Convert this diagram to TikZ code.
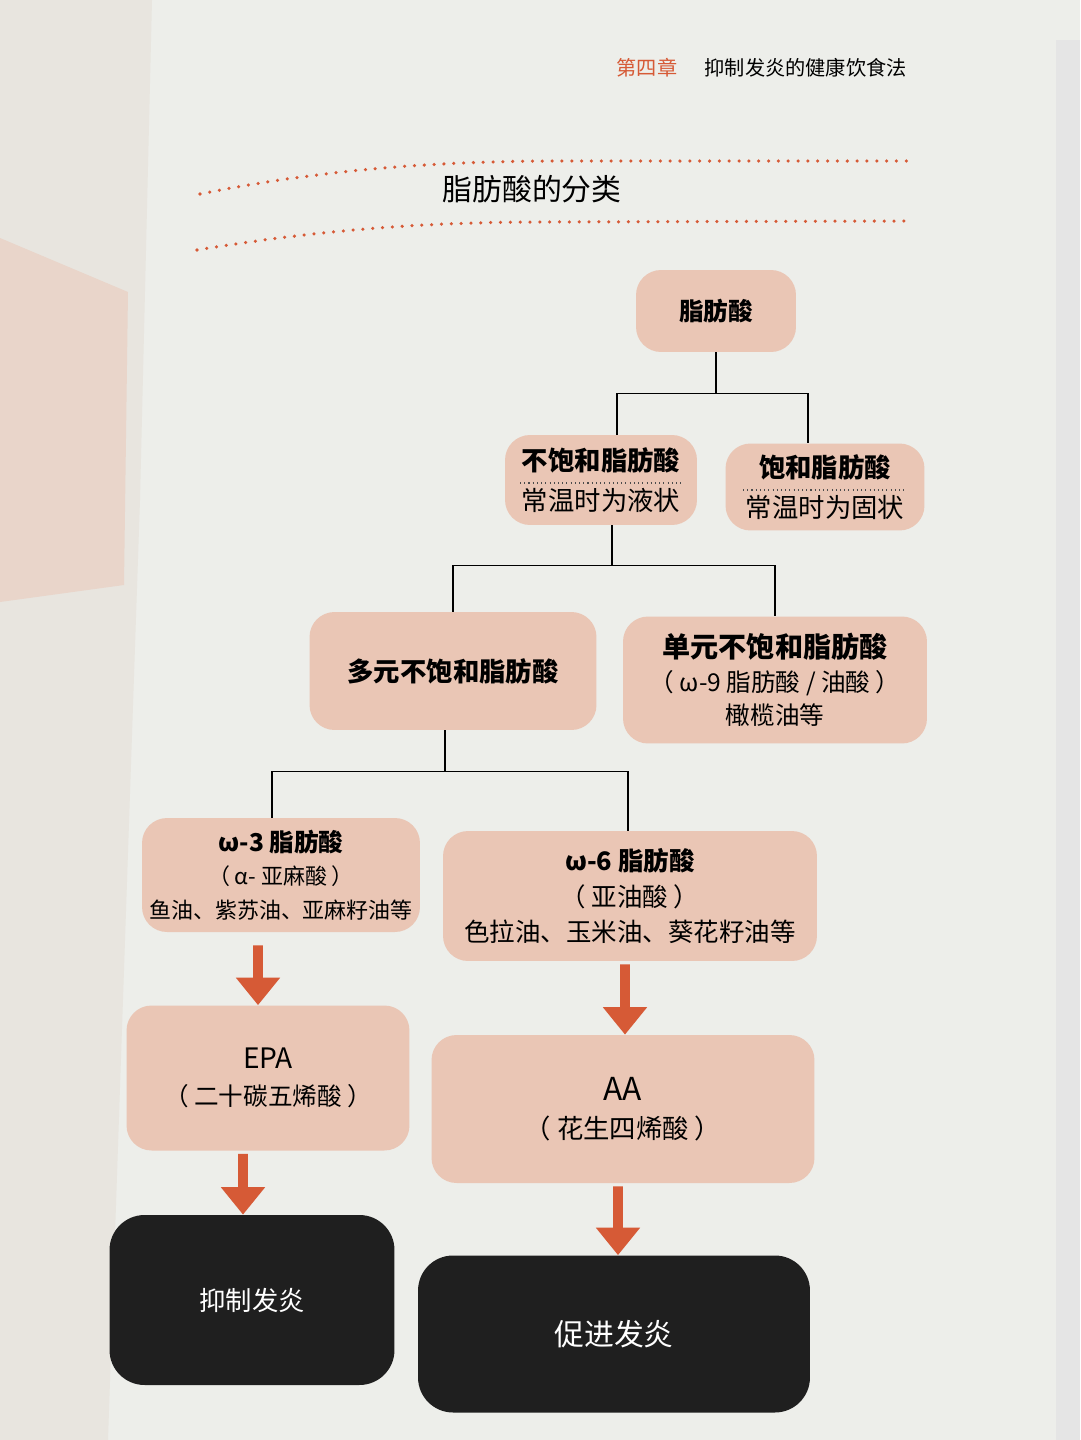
\documentclass[tikz,border=0pt]{standalone}
\usepackage{fontspec}
\setmainfont{Noto Sans CJK SC}
\usepackage{xcolor}
\usetikzlibrary{arrows.meta,positioning}

\definecolor{boxfill}{HTML}{EAC6B5}
\definecolor{arrowred}{HTML}{D65A36}
\definecolor{pagebg}{HTML}{EDEEEA}
\definecolor{leftpage}{HTML}{E8E5DF}
\definecolor{inkblack}{HTML}{1F1F1F}

\tikzset{
  fabox/.style={rounded corners=0.5cm,fill=boxfill,align=center,inner sep=0pt},
  darkbox/.style={rounded corners=0.7cm,fill=inkblack,text=white,inner sep=0pt},
  link/.style={draw=black,line width=0.9pt},
  flow/.style={draw=arrowred,line width=5.5pt,-{Triangle[width=0.85cm,length=0.55cm]}},
  sepline/.style={draw=black!70,line width=1pt,dash pattern=on 0.6pt off 1.8pt},
  dotrule/.style={draw=arrowred,line width=2pt,line cap=round,dash pattern=on 0pt off 5.6pt}
}
\newcommand{\fsz}[2]{\fontsize{#1}{#2}\selectfont}

\begin{document}
\begin{tikzpicture}[x=0.02cm,y=-0.02cm]
\useasboundingbox (0,0) rectangle (1080,1440);
% page and photo background
\fill[pagebg] (0,0) rectangle (1080,1440);
\fill[leftpage] (0,0) -- (152,0) -- (140,500) -- (108,1440) -- (0,1440) -- cycle;
\fill[boxfill!50!leftpage] (0,238) -- (128,292) -- (124,585) -- (0,602) -- cycle;
\fill[black!10] (1056,40) -- (1080,40) -- (1080,1440) -- (1056,1440) -- cycle;

% running head
\node[text=arrowred,font=\fsz{11.5}{14}] (chapter) at (647,68) {第四章};
\node[font=\fsz{11.5}{14},right=0.3cm of chapter] (chaptitle) {抑制发炎的健康饮食法};

% title between dotted rules
\draw[dotrule] (200,194) .. controls (330,168) and (440,162) .. (545,161) -- (912,161);
\draw[dotrule] (197,250) .. controls (330,228) and (440,222) .. (545,222) -- (912,221);
\node[font=\fsz{17}{20}] (title) at (532,189) {脂肪酸的分类};

% boxes
\node[fabox,minimum width=3.2cm,minimum height=1.64cm,font=\fsz{14}{17}\bfseries] (top) at (716,311) {脂肪酸};
\node[fabox,minimum width=3.84cm,minimum height=1.8cm,font=\fsz{15}{18}] (unsat) at (601,480)
  {{\bfseries 不饱和脂肪酸}\\[5pt]常温时为液状};
\node[fabox,minimum width=3.98cm,minimum height=1.74cm,font=\fsz{15}{18}] (sat) at (825,487)
  {{\bfseries 饱和脂肪酸}\\[5pt]常温时为固状};
\node[fabox,minimum width=5.74cm,minimum height=2.36cm,font=\fsz{15}{18}\bfseries] (poly) at (453,671) {多元不饱和脂肪酸};
\node[fabox,minimum width=6.08cm,minimum height=2.54cm,font=\fsz{14}{19}] (mono) at (775,680)
  {{\fsz{16}{19}\bfseries 单元不饱和脂肪酸}\\（ ω-9 脂肪酸 / 油酸 ）\\橄榄油等};
\node[fabox,minimum width=5.56cm,minimum height=2.28cm,font=\fsz{12.5}{19}] (omegathree) at (281,875)
  {{\fsz{14}{19}\bfseries ω-3 脂肪酸}\\（ α- 亚麻酸 ）\\鱼油、紫苏油、亚麻籽油等};
\node[fabox,minimum width=7.48cm,minimum height=2.6cm,font=\fsz{14.5}{20}] (omegasix) at (630,896)
  {{\bfseries ω-6 脂肪酸}\\（ 亚油酸 ）\\色拉油、玉米油、葵花籽油等};
\node[fabox,minimum width=5.66cm,minimum height=2.9cm,font=\fsz{14}{21}] (epa) at (268,1078)
  {{\fsz{16}{21}EPA}\\（ 二十碳五烯酸 ）};
\node[fabox,minimum width=7.66cm,minimum height=2.96cm,font=\fsz{15}{22}] (aa) at (623,1109)
  {{\fsz{18}{22}AA}\\（ 花生四烯酸 ）};
\node[darkbox,minimum width=5.7cm,minimum height=3.4cm,font=\fsz{15}{18}] (inhibit) at (252,1300) {抑制发炎};
\node[darkbox,minimum width=7.84cm,minimum height=3.14cm,font=\fsz{17}{20}] (promote) at (614,1334) {促进发炎};

% dotted separators inside the first pair
\draw[sepline] ([xshift=-1.62cm,yshift=-0.06cm]unsat.center) -- ([xshift=1.62cm,yshift=-0.06cm]unsat.center);
\draw[sepline] ([xshift=-1.64cm,yshift=-0.06cm]sat.center) -- ([xshift=1.64cm,yshift=-0.06cm]sat.center);

% tree connectors
\draw[link] (top.south) -- ++(0,41) coordinate (splitA);
\draw[link] ([xshift=0.32cm]unsat.north) |- (splitA) -| ([xshift=-0.34cm]sat.north);
\draw[link] ([xshift=0.22cm]unsat.south) -- ++(0,40) coordinate (splitB);
\draw[link] (poly.north) |- (splitB) -| (mono.north);
\draw[link] ([xshift=-0.16cm]poly.south) -- ++(0,41) coordinate (splitC);
\draw[link] ([xshift=-0.18cm]omegathree.north) |- (splitC) -| ([xshift=-0.04cm]omegasix.north);

% flow arrows
\draw[flow] ([xshift=-0.46cm,yshift=-0.26cm]omegathree.south) -- ([xshift=-0.2cm]epa.north);
\draw[flow] ([xshift=-0.1cm,yshift=-0.06cm]omegasix.south) -- ([xshift=0.04cm]aa.north);
\draw[flow] ([xshift=-0.5cm,yshift=-0.06cm]epa.south) -- ([xshift=-0.18cm]inhibit.north);
\draw[flow] ([xshift=-0.1cm,yshift=-0.06cm]aa.south) -- ([xshift=0.08cm]promote.north);
\end{tikzpicture}
\end{document}
